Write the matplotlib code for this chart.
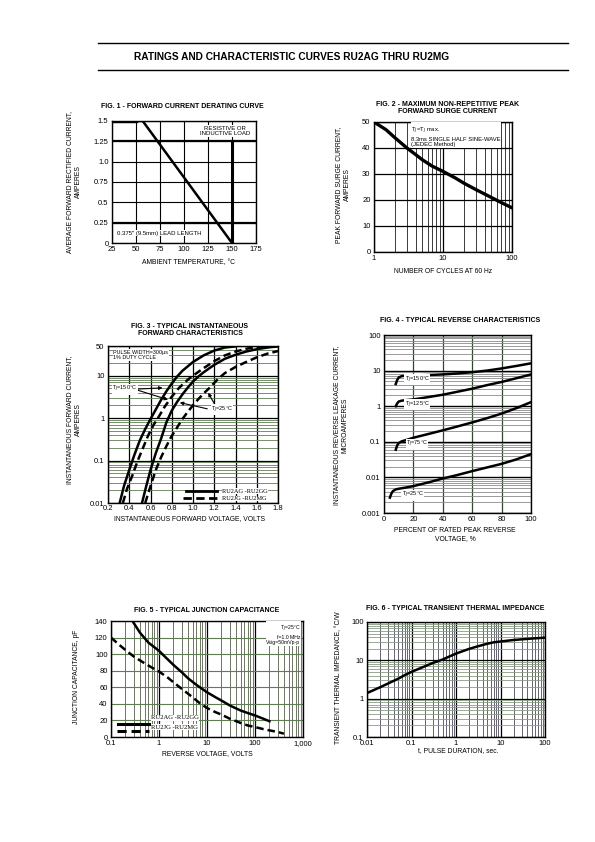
import numpy as np
import matplotlib
matplotlib.use('Agg')
import matplotlib.pyplot as plt
from matplotlib.ticker import LogLocator, FixedLocator, NullFormatter, FuncFormatter

plt.rcParams['font.family'] = ['Liberation Sans', 'DejaVu Sans']

W, H = 595, 842

# fig 1 - derating
derate_temp = [25, 57, 150]
derate_amp = [1.5, 1.5, 0.0]

# fig 2 - surge
surge_cycles = [1, 1.5, 2, 3, 4, 5, 7, 10, 15, 20, 30, 50, 70, 100]
surge_amp = [50, 47, 44, 40, 37.5, 35.5, 33, 31, 28.5, 26.5, 24, 21, 19, 17]

# fig 3 - forward characteristics
vf_ag150 = [0.31, 0.35, 0.40, 0.45, 0.50, 0.55, 0.60, 0.65, 0.70, 0.75, 0.80, 0.85, 0.90, 1.0, 1.1, 1.2, 1.3, 1.4]
if_ag150 = [0.01, 0.025, 0.06, 0.14, 0.3, 0.55, 0.95, 1.6, 2.7, 4.3, 6.5, 9.5, 13, 21, 30, 39, 46, 49]
vf_jg150 = [0.34, 0.38, 0.43, 0.48, 0.53, 0.58, 0.63, 0.68, 0.73, 0.80, 0.87, 0.95, 1.0, 1.1, 1.2, 1.3, 1.4, 1.5, 1.6, 1.7, 1.8]
if_jg150 = [0.01, 0.022, 0.045, 0.1, 0.2, 0.4, 0.7, 1.1, 1.8, 3.2, 5.2, 8, 10, 15, 22, 30, 37, 43, 47, 50, 52]
vf_ag25 = [0.52, 0.56, 0.60, 0.65, 0.70, 0.75, 0.80, 0.85, 0.90, 0.95, 1.0, 1.05, 1.1, 1.2, 1.3, 1.4, 1.5, 1.6, 1.7, 1.8]
if_ag25 = [0.01, 0.025, 0.06, 0.15, 0.33, 0.8, 1.5, 2.4, 3.6, 5.2, 7.3, 9.5, 12, 18, 25, 31, 37, 42, 46, 49]
vf_jg25 = [0.55, 0.60, 0.65, 0.70, 0.75, 0.80, 0.85, 0.90, 0.95, 1.0, 1.05, 1.1, 1.15, 1.2, 1.25, 1.3, 1.4, 1.5, 1.6, 1.7, 1.8]
if_jg25 = [0.01, 0.025, 0.06, 0.12, 0.22, 0.38, 0.6, 0.95, 1.4, 2.0, 2.8, 3.8, 5, 6.8, 9, 11.5, 16, 21, 27, 33, 38]

# fig 4 - reverse characteristics
vr150 = [8, 9, 10, 12, 15, 20, 30, 40, 50, 60, 70, 80, 90, 100]
ir150 = [4.2, 5.5, 6.4, 7.0, 7.2, 7.3, 7.5, 7.8, 8.3, 9, 10, 11.5, 13.5, 16]
vr125 = [8, 9, 10, 12, 15, 20, 30, 40, 50, 60, 70, 80, 90, 100]
ir125 = [1.0, 1.2, 1.35, 1.43, 1.48, 1.55, 1.8, 2.1, 2.55, 3.1, 3.9, 4.8, 6.1, 7.8]
vr75 = [8, 9, 10, 12, 15, 20, 30, 40, 50, 60, 70, 80, 90, 100]
ir75 = [0.06, 0.08, 0.092, 0.103, 0.112, 0.13, 0.165, 0.21, 0.27, 0.35, 0.46, 0.62, 0.88, 1.3]
vr25 = [4, 5, 6, 8, 10, 15, 20, 30, 40, 50, 60, 70, 80, 90, 100]
ir25 = [0.0027, 0.0035, 0.0041, 0.0046, 0.0048, 0.0052, 0.0057, 0.0072, 0.0093, 0.0117, 0.015, 0.019, 0.024, 0.032, 0.045]

# fig 5 - junction capacitance
cv_ag = [0.28, 0.4, 0.6, 1, 1.5, 2, 3, 4, 6, 10, 15, 20, 30, 50, 70, 100, 150, 200]
cj_ag = [140, 126, 114, 104, 94, 87, 78, 71, 63, 54, 48, 44, 38, 32, 29, 26, 22, 19]
cv_jg = [0.1, 0.15, 0.2, 0.3, 0.5, 0.7, 1, 1.5, 2, 3, 5, 7, 10, 15, 20, 30, 50, 70, 100, 150, 200, 300, 400]
cj_jg = [120, 111, 105, 97, 89, 84, 79, 72, 66, 58, 48, 41, 35, 30, 27, 22, 17, 14, 12, 9.5, 8, 6, 4]

# fig 6 - transient thermal impedance
tp = [0.01, 0.02, 0.03, 0.05, 0.07, 0.1, 0.2, 0.3, 0.5, 0.7, 1, 2, 3, 5, 7, 10, 20, 50, 100]
zth = [1.4, 2.0, 2.5, 3.3, 4.1, 5, 7, 8.5, 10.5, 12.5, 15, 20, 23, 27, 29.5, 31, 34, 37, 39]

GRN = '#5f7d55'
TICK = 5.5
LBL = 4.9


def add_ax(fig, x0, y0, x1, y1):
    ax = fig.add_axes([x0 / W, 1 - y1 / H, (x1 - x0) / W, (y1 - y0) / H])
    for s in ax.spines.values():
        s.set_linewidth(1.0)
    ax.tick_params(which='both', length=0, labelsize=TICK, pad=2.5)
    return ax


def ptext(fig, x, y, s, **kw):
    fig.text(x / W, 1 - y / H, s, **kw)


def logfmt(v, pos):
    if v >= 1:
        return '%d' % v
    return ('%g' % v)


fig = plt.figure(figsize=(W / 100, H / 100), dpi=100)

# header
fig.add_artist(plt.Line2D([98 / W, 568 / W], [1 - 43 / H, 1 - 43 / H], color='black', lw=1.0))
fig.add_artist(plt.Line2D([98 / W, 568 / W], [1 - 70 / H, 1 - 70 / H], color='black', lw=1.0))
ptext(fig, 292, 57, 'RATINGS AND CHARACTERISTIC CURVES RU2AG THRU RU2MG',
      ha='center', va='center', fontsize=7.3, fontweight='bold')

# ---------------- FIG 1
ax = add_ax(fig, 112, 121, 256, 243)
ax.set_xlim(25, 175)
ax.set_ylim(0, 1.5)
ax.set_xticks([25, 50, 75, 100, 125, 150, 175])
ax.set_yticks([0, 0.25, 0.5, 0.75, 1.0, 1.25, 1.5])
ax.set_yticklabels(['0', '0.25', '0.5', '0.75', '1.0', '1.25', '1.5'])
ax.grid(True, color='black', lw=0.8)
ax.axhline(1.25, color='black', lw=1.6)
ax.axhline(0.25, color='black', lw=1.6)
ax.plot([150, 150], [0, 1.25], color='black', lw=2.2)
ax.plot(derate_temp, derate_amp, color='black', lw=1.8)
ax.plot([25, 50], [1.5, 1.5], color='black', lw=3.2)
ax.text(143, 1.44, 'RESISTIVE OR\nINDUCTIVE LOAD', ha='center', va='top', fontsize=4.3,
        linespacing=1.1, bbox=dict(fc='white', ec='none', pad=0.5))
ax.text(30, 0.12, '0.375" (9.5mm) LEAD LENGTH', ha='left', va='center', fontsize=4.3,
        bbox=dict(fc='white', ec='none', pad=0.5))
ptext(fig, 182, 107, 'FIG. 1 - FORWARD CURRENT DERATING CURVE', ha='center', va='center',
      fontsize=5, fontweight='bold')
ptext(fig, 74, 182, 'AVERAGE FORWARD RECTIFIED CURRENT,\nAMPERES', ha='center', va='center',
      rotation=90, fontsize=LBL, linespacing=1.3)
ptext(fig, 188, 263, 'AMBIENT TEMPERATURE, \u00b0C', ha='center', va='center', fontsize=LBL)

# ---------------- FIG 2
ax = add_ax(fig, 374, 122, 512, 252)
ax.set_xscale('log')
ax.set_xlim(1, 100)
ax.set_ylim(0, 50)
ax.xaxis.set_major_locator(FixedLocator([1, 10, 100]))
ax.xaxis.set_major_formatter(FuncFormatter(logfmt))
ax.xaxis.set_minor_locator(LogLocator(base=10, subs=np.arange(2, 10)))
ax.xaxis.set_minor_formatter(NullFormatter())
ax.set_yticks([0, 10, 20, 30, 40, 50])
ax.grid(True, which='major', color='black', lw=0.9)
ax.grid(True, which='minor', axis='x', color='#3a3a3a', lw=0.7)
ax.plot(surge_cycles, surge_amp, color='black', lw=2.4)
ax.text(0.27, 0.97, 'T$_J$=T$_J$ max.\n8.3ms SINGLE HALF SINE-WAVE\n(JEDEC Method)',
        transform=ax.transAxes, ha='left', va='top', fontsize=4.2, linespacing=1.15,
        bbox=dict(fc='white', ec='none', pad=0.5))
ptext(fig, 448, 108, 'FIG. 2 - MAXIMUM NON-REPETITIVE PEAK\nFORWARD SURGE CURRENT', ha='center',
      va='center', fontsize=5, fontweight='bold', linespacing=1.15)
ptext(fig, 343, 185, 'PEAK FORWARD SURGE CURRENT,\nAMPERES', ha='center', va='center',
      rotation=90, fontsize=LBL, linespacing=1.3)
ptext(fig, 443, 271, 'NUMBER OF CYCLES AT 60 Hz', ha='center', va='center', fontsize=LBL)

# ---------------- FIG 3
ax = add_ax(fig, 108, 346, 278, 503)
ax.set_yscale('log')
ax.set_xlim(0.2, 1.8)
ax.set_ylim(0.01, 50)
ax.set_xticks(np.round(np.arange(0.2, 1.81, 0.2), 1))
ax.set_xticklabels(['%.1f' % v for v in np.arange(0.2, 1.81, 0.2)])
ax.yaxis.set_major_locator(FixedLocator([0.01, 0.1, 1, 10, 50]))
ax.yaxis.set_major_formatter(FuncFormatter(logfmt))
ax.yaxis.set_minor_locator(LogLocator(base=10, subs=np.arange(2, 10)))
ax.yaxis.set_minor_formatter(NullFormatter())
ax.tick_params(axis='x', pad=1.5)
ax.grid(True, which='major', color='black', lw=0.9)
ax.grid(True, which='minor', axis='y', color=GRN, lw=0.6)
ax.plot(vf_ag150, if_ag150, color='black', lw=1.8)
ax.plot(vf_jg150, if_jg150, color='black', lw=1.8, ls=(0, (3, 1.6)))
ax.plot(vf_ag25, if_ag25, color='black', lw=1.8)
ax.plot(vf_jg25, if_jg25, color='black', lw=1.8, ls=(0, (3, 1.6)))
ax.text(0.03, 0.975, 'PULSE WIDTH=300\u03bcs\n1% DUTY CYCLE', transform=ax.transAxes,
        ha='left', va='top', fontsize=3.9, linespacing=1.1, bbox=dict(fc='white', ec='none', pad=0.3))
arr = dict(arrowstyle='-|>', color='black', lw=0.8, mutation_scale=5)
ax.annotate('', xy=(0.74, 5.2), xytext=(0.45, 4.8), arrowprops=arr)
ax.annotate('', xy=(0.79, 2.6), xytext=(0.45, 4.8), arrowprops=arr)
ax.text(0.24, 4.8, 'T$_J$=150\u00b0C', ha='left', va='center', fontsize=4.0,
        bbox=dict(fc='white', ec='none', pad=0.3))
ax.annotate('', xy=(0.85, 2.4), xytext=(1.16, 1.6), arrowprops=arr)
ax.annotate('', xy=(1.13, 4.5), xytext=(1.22, 1.8), arrowprops=arr)
ax.text(1.17, 1.6, 'T$_J$=25\u00b0C', ha='left', va='center', fontsize=4.0,
        bbox=dict(fc='white', ec='none', pad=0.3))
ax.plot([0.46, 0.64], [0.075, 0.075], transform=ax.transAxes, color='black', lw=2.0)
ax.plot([0.44, 0.64], [0.03, 0.03], transform=ax.transAxes, color='black', lw=2.0, ls=(0, (3, 1.6)))
ax.text(0.67, 0.075, 'RU2AG -RU2GG', transform=ax.transAxes, ha='left', va='center',
        fontsize=4.6, family='Liberation Serif', bbox=dict(fc='white', ec='none', pad=0.2))
ax.text(0.67, 0.03, 'RU2JG -RU2MG', transform=ax.transAxes, ha='left', va='center',
        fontsize=4.6, family='Liberation Serif', bbox=dict(fc='white', ec='none', pad=0.2))
ptext(fig, 190, 330, 'FIG. 3 - TYPICAL INSTANTANEOUS\nFORWARD CHARACTERISTICS', ha='center',
      va='center', fontsize=5, fontweight='bold', linespacing=1.15)
ptext(fig, 74, 420, 'INSTANTANEOUS FORWARD CURRENT,\nAMPERES', ha='center', va='center',
      rotation=90, fontsize=LBL, linespacing=1.3)
ptext(fig, 190, 519, 'INSTANTANEOUS FORWARD VOLTAGE, VOLTS', ha='center', va='center', fontsize=LBL)

# ---------------- FIG 4
ax = add_ax(fig, 384, 335, 531, 513)
ax.set_yscale('log')
ax.set_xlim(0, 100)
ax.set_ylim(0.001, 100)
ax.set_xticks([0, 20, 40, 60, 80, 100])
ax.yaxis.set_major_locator(FixedLocator([0.001, 0.01, 0.1, 1, 10, 100]))
ax.yaxis.set_major_formatter(FuncFormatter(logfmt))
ax.yaxis.set_minor_locator(LogLocator(base=10, subs=np.arange(2, 10)))
ax.yaxis.set_minor_formatter(NullFormatter())
ax.grid(True, which='major', axis='y', color='black', lw=1.0)
ax.grid(True, which='major', axis='x', color='#2f4a2a', lw=0.9)
ax.grid(True, which='minor', axis='y', color='#8a8a8a', lw=0.6)
for vx, iy in [(vr150, ir150), (vr125, ir125), (vr75, ir75), (vr25, ir25)]:
    ax.plot(vx, iy, color='black', lw=1.8)
for xx, yy, s in [(14, 5.6, 'T$_J$=150\u00b0C'), (14, 1.1, 'T$_J$=125\u00b0C'),
                  (15, 0.085, 'T$_J$=75\u00b0C'), (12, 0.0032, 'T$_J$=25\u00b0C')]:
    ax.text(xx, yy, s, ha='left', va='center', fontsize=4.0,
            bbox=dict(fc='white', ec='none', pad=0.3))
ptext(fig, 460, 321, 'FIG. 4 - TYPICAL REVERSE CHARACTERISTICS', ha='center', va='center',
      fontsize=5, fontweight='bold')
ptext(fig, 341, 425, 'INSTANTANEOUS REVERSE LEAKAGE CURRENT,\nMICROAMPERES', ha='center',
      va='center', rotation=90, fontsize=LBL, linespacing=1.3)
ptext(fig, 455, 535, 'PERCENT OF RATED PEAK REVERSE\nVOLTAGE, %', ha='center', va='center',
      fontsize=LBL, linespacing=1.2)

# ---------------- FIG 5
ax = add_ax(fig, 111, 621, 303, 737)
ax.set_xscale('log')
ax.set_xlim(0.1, 1000)
ax.set_ylim(0, 140)
ax.xaxis.set_major_locator(FixedLocator([0.1, 1, 10, 100, 1000]))
ax.xaxis.set_major_formatter(FuncFormatter(lambda v, p: {0.1: '0.1', 1: '1', 10: '10', 100: '100', 1000: '1,000'}.get(v, '')))
ax.xaxis.set_minor_locator(LogLocator(base=10, subs=np.arange(2, 10)))
ax.xaxis.set_minor_formatter(NullFormatter())
ax.set_yticks(np.arange(0, 141, 20))
ax.grid(True, which='major', color='black', lw=0.9)
ax.grid(True, which='minor', axis='x', color='#55604a', lw=0.6)
ax.grid(True, which='major', axis='y', color=GRN, lw=0.8)
ax.plot(cv_ag, cj_ag, color='black', lw=1.8)
ax.plot(cv_jg, cj_jg, color='black', lw=1.8, ls=(0, (3, 1.6)))
ax.text(0.985, 0.975, 'T$_J$=25\u00b0C\nf=1.0 MHz\nVsig=50mVp-p', transform=ax.transAxes,
        ha='right', va='top', fontsize=3.7, linespacing=1.15, bbox=dict(fc='white', ec='none', pad=0.3))
ax.plot([0.036, 0.2], [0.11, 0.11], transform=ax.transAxes, color='black', lw=2.2)
ax.plot([0.03, 0.2], [0.05, 0.05], transform=ax.transAxes, color='black', lw=2.2, ls=(0, (3, 1.6)))
ax.text(0.21, 0.165, 'RU2AG -RU2GG', transform=ax.transAxes, ha='left', va='center',
        fontsize=4.8, family='Liberation Serif', bbox=dict(fc='white', ec='none', pad=0.2))
ax.text(0.21, 0.085, 'RU2JG -RU2MG', transform=ax.transAxes, ha='left', va='center',
        fontsize=4.8, family='Liberation Serif', bbox=dict(fc='white', ec='none', pad=0.2))
ptext(fig, 207, 610, 'FIG. 5 - TYPICAL JUNCTION CAPACITANCE', ha='center', va='center',
      fontsize=5, fontweight='bold')
ptext(fig, 76, 677, 'JUNCTION CAPACITANCE, pF', ha='center', va='center', rotation=90, fontsize=LBL)
ptext(fig, 207, 754, 'REVERSE VOLTAGE, VOLTS', ha='center', va='center', fontsize=LBL)

# ---------------- FIG 6
ax = add_ax(fig, 367, 622, 545, 737)
ax.set_xscale('log')
ax.set_yscale('log')
ax.set_xlim(0.01, 100)
ax.set_ylim(0.1, 100)
ax.xaxis.set_major_locator(FixedLocator([0.01, 0.1, 1, 10, 100]))
ax.xaxis.set_major_formatter(FuncFormatter(logfmt))
ax.yaxis.set_major_locator(FixedLocator([0.1, 1, 10, 100]))
ax.yaxis.set_major_formatter(FuncFormatter(logfmt))
for a in (ax.xaxis, ax.yaxis):
    a.set_minor_locator(LogLocator(base=10, subs=np.arange(2, 10)))
    a.set_minor_formatter(NullFormatter())
ax.grid(True, which='major', color='black', lw=0.9)
ax.grid(True, which='minor', axis='x', color='#4a4a5a', lw=0.6)
ax.grid(True, which='minor', axis='y', color='#8a9a85', lw=0.6)
ax.plot(tp, zth, color='black', lw=1.8)
ptext(fig, 455, 609, 'FIG. 6 - TYPICAL TRANSIENT THERMAL IMPEDANCE', ha='center', va='center',
      fontsize=5, fontweight='bold')
ptext(fig, 339, 678, 'TRANSIENT THERMAL IMPEDANCE, \u00b0C/W', ha='center', va='center',
      rotation=90, fontsize=LBL)
ptext(fig, 458, 751, 't, PULSE DURATION, sec.', ha='center', va='center', fontsize=LBL)

fig.savefig('out.png', dpi=100)
